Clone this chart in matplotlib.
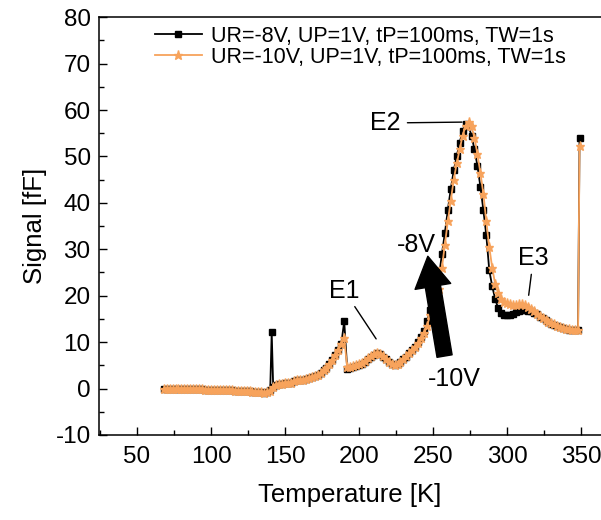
import numpy as np
import matplotlib.pyplot as plt
from matplotlib.ticker import MultipleLocator

plt.rcParams['font.family'] = ['Liberation Sans', 'DejaVu Sans']
plt.rcParams['axes.unicode_minus'] = False

# temperature grid (K), every 2 K from 68 to 346, then the end points
temp = list(range(68, 348, 2)) + [348, 349]

sig_8v = [
    -0.1, -0.1, -0.1, -0.1, -0.1, -0.1, -0.1, -0.2, -0.2, -0.2,   # 68-86
    -0.2, -0.2, -0.2, -0.2, -0.3, -0.3, -0.3, -0.3, -0.3, -0.3,   # 88-106
    -0.4, -0.4, -0.4, -0.4, -0.5, -0.5, -0.5, -0.6, -0.6, -0.6,   # 108-126
    -0.7, -0.7, -0.8, -0.8, -0.9, -0.7, -0.3, 0.4, 0.8, 0.9,      # 128-146
    1.0, 1.1, 1.2, 1.3, 1.6, 1.9, 1.8, 1.9, 2.0, 2.2,             # 148-166
    2.4, 2.7, 3.0, 3.4, 3.9, 4.5, 5.2, 6.1, 7.2, 8.3,             # 168-186
    9.6, 14.5, 4.3, 4.4, 4.6, 4.8, 5.0, 5.3, 5.8, 6.3,            # 188-206
    6.8, 7.3, 7.6, 7.4, 6.9, 6.3, 5.7, 5.2, 5.0, 5.2,             # 208-226
    5.7, 6.3, 6.9, 7.6, 8.2, 9.0, 10.0, 11.1, 12.5, 14.5,         # 228-246
    17.0, 19.0, 21.0, 24.0, 29.0, 33.5, 38.5, 43.0, 47.0, 50.0,   # 248-266
    53.0, 55.5, 56.9, 56.5, 54.5, 51.5, 48.0, 43.5, 38.5, 33.0,   # 268-286
    25.5, 22.0, 19.3, 17.3, 16.3, 15.9, 15.8, 15.9, 16.1, 16.4,   # 288-306
    16.7, 16.9, 16.9, 16.8, 16.6, 16.3, 16.0, 15.5, 15.1, 14.7,   # 308-326
    14.3, 14.0, 13.7, 13.4, 13.2, 13.0, 12.8, 12.7, 12.6, 12.6,   # 328-346
    12.6, 54.0,                                                   # 348-349
]

sig_10v = [
    -0.1, -0.1, -0.1, -0.1, -0.1, -0.1, -0.1, -0.2, -0.2, -0.2,
    -0.2, -0.2, -0.2, -0.2, -0.3, -0.3, -0.3, -0.3, -0.3, -0.3,
    -0.4, -0.4, -0.4, -0.4, -0.5, -0.5, -0.5, -0.6, -0.6, -0.6,
    -0.7, -0.7, -0.8, -0.8, -0.9, -0.8, -0.5, 0.3, 0.7, 0.9,
    1.0, 1.1, 1.2, 1.3, 1.6, 1.9, 1.8, 1.9, 2.0, 2.2,
    2.4, 2.7, 3.0, 3.4, 3.9, 4.5, 5.2, 6.1, 7.2, 8.3,
    9.6, 10.8, 4.6, 4.7, 4.9, 5.1, 5.3, 5.6, 6.0, 6.5,
    7.0, 7.5, 7.7, 7.5, 7.0, 6.4, 5.8, 5.3, 5.1, 5.3,
    5.8, 6.4, 7.0, 7.7, 8.2, 8.9, 9.8, 10.8, 12.0, 13.5,
    15.8, 17.8, 19.5, 21.5, 26.0, 31.0, 36.0, 40.5, 45.0, 48.5,
    51.5, 54.5, 56.5, 57.5, 56.5, 54.0, 50.5, 46.5, 42.0, 36.0,
    30.5, 26.0, 22.5, 20.5, 19.3, 18.7, 18.4, 18.2, 18.1, 18.1,
    18.2, 18.2, 18.0, 17.6, 17.1, 16.6, 16.1, 15.6, 15.2, 14.8,
    14.4, 14.1, 13.8, 13.5, 13.3, 13.1, 12.9, 12.8, 12.7, 12.7,
    12.7, 52.2,
]

# single noise spike of the -8V run
spike_t = 141
spike_s = 12.1

labels = ['UR=-8V, UP=1V, tP=100ms, TW=1s', 'UR=-10V, UP=1V, tP=100ms, TW=1s']
orange = '#F7A35C'

t8 = np.array(temp, dtype=float)
s8 = np.array(sig_8v)
k = np.searchsorted(t8, spike_t)
t8 = np.insert(t8, k, spike_t)
s8 = np.insert(s8, k, spike_s)

fig = plt.figure(figsize=(6.01, 5.2), dpi=100)
ax = fig.add_axes([0.1647, 0.1635, 0.8353, 0.8035])

ax.plot(t8, s8, '-', color='black', lw=1.3, marker='s', ms=5, label=labels[0])
ax.plot(temp, sig_10v, '-', color=orange, lw=1.3, marker='*', ms=6.5, label=labels[1])

ax.set_xlim(24.3, 363.5)
ax.set_ylim(-10, 80)
ax.xaxis.set_major_locator(MultipleLocator(50))
ax.xaxis.set_minor_locator(MultipleLocator(25))
ax.yaxis.set_major_locator(MultipleLocator(10))
ax.yaxis.set_minor_locator(MultipleLocator(5))
ax.tick_params(which='both', direction='in', labelsize=17.5, width=1, pad=6)
ax.tick_params(axis='x', which='both', pad=8)
ax.tick_params(which='major', length=6)
ax.tick_params(which='minor', length=3.5)
for sp in ax.spines.values():
    sp.set_linewidth(1.1)
ax.spines['right'].set_visible(False)

ax.set_xlabel('Temperature [K]', fontsize=18.5, labelpad=11)
ax.set_ylabel('Signal [fF]', fontsize=18.5, labelpad=6)

ax.legend(loc='upper left', bbox_to_anchor=(0.094, 1.0), frameon=False,
          fontsize=15.5, handlelength=2.2, handletextpad=0.4, labelspacing=0.0,
          borderaxespad=0.0, borderpad=0.4)

# peak labels
ax.annotate('E1', xy=(212.6, 10.2), xytext=(190.0, 18.5), fontsize=18,
            ha='center', va='bottom',
            arrowprops=dict(arrowstyle='-', color='black', lw=1, shrinkA=1))
ax.annotate('E2', xy=(271.5, 57.4), xytext=(228, 57.2), fontsize=18,
            ha='right', va='center',
            arrowprops=dict(arrowstyle='-', color='black', lw=1, shrinkA=3))
ax.annotate('E3', xy=(314.4, 19.5), xytext=(317.8, 25.5), fontsize=18,
            ha='center', va='bottom',
            arrowprops=dict(arrowstyle='-', color='black', lw=1, shrinkA=1))

ax.annotate('', xy=(246.5, 28.5), xytext=(257.8, 7.0),
            arrowprops=dict(arrowstyle='simple,head_length=1.1,head_width=1.3,tail_width=0.55',
                            color='black', shrinkA=0, shrinkB=0, mutation_scale=20))
ax.text(238.6, 31.0, '-8V', fontsize=18, ha='center', va='center')
ax.text(264.6, 2.0, '-10V', fontsize=18, ha='center', va='center')

fig.savefig('out.png', dpi=100)
